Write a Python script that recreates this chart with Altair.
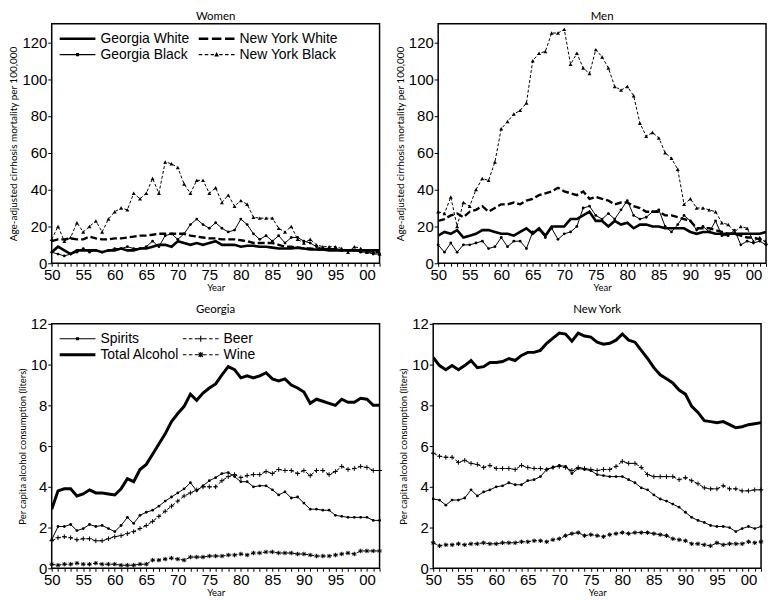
import altair as alt
import pandas as pd

years = list(range(1950, 2003))

# ---- Cirrhosis mortality, Women ----
women_georgia_white = [6,9,7,5,7,7,7,7,6,7, 7,8,7,7,8,8,9,10,10,9, 12,11,10,11,10,11,12,10,10,10,
                       9,9.5,9.5,9,9,8.5,8,8,8,8.5, 8,7.5,7.5,7.5,7,7,7,7,7,7, 7,7,7]
women_georgia_black = [6,5,4,5,6,8,6,7,6,7, 8,8,9,8,8,9,12,9,15,16, 13,16,21,24,21,19,22,19,17,18,
                       24,21,16,13,15,12,15,11,14,14, 12,11,9,8,8,8,7,7,7,6, 6,5,5]
women_newyork_white = [12,13,13,13.5,13,13,14.5,13.5,13,13, 13.5,13.5,14,14.5,15,15,15.5,16,16,16,
                       16,16,15,14.5,14,13.5,13.5,13,13,13, 12.5,12,11,11,11,11,10,9,9,8.5,
                       8,8,7.5,7.5,7.5,7.5,7,7,7,7, 7,6.5,6]
women_newyork_black = [13,20,12,14,22,17,20,23,17,24, 28,30,29,38,35,38,46,38,55,54,
                       52,43,38,45,45,38,41,33,37,31, 34,32,25,24.5,24.5,24.5,19,17,20,13,
                       11,13,10,9,9,9,8,6,9,8, 6,6,5]

# ---- Cirrhosis mortality, Men ----
men_georgia_white = [15,17,16,18,14,15,16,18,18,17, 16,16,15,17,19,16,19,15,20,20,
                     20,24,24,26,28,23,23,20,23,21, 22,19,21,21,20,20,19,19,19,19,
                     17,16,17,17,16,16,16,16,16,16, 16,16,17]
men_georgia_black = [10,6,11,6,10,10,11,12,8,9, 14,9,12,12,8,17,18,14,19,13,
                     16,17,20,30,31,26,24,27,24,29, 34,26,24,25,28,29,20,17,21,26,
                     23,18,20,17,23,15,15,18,10,12, 11,12,10]
men_newyork_white = [23,24,26,27,25,28,29,31,28,30, 32,32,33,32,34,35,37,38,39,41,
                     39,38,37,39,35,36,35,34,32,33, 33,31,30,28,28,28,26,26,25,24,
                     23,19,19,19,18,17,16,16,15,14, 14,13,12]
men_newyork_black = [28,27,36,20,33,31,40,46,45,55, 73,77,81,83,87,110,114,115,125,125,
                     127,108,114,106,103,116,112,106,96,94, 96,91,76,69,71,68,60,57,51,32,
                     35,30,30,29,28,22,21,17,20,19, 12,14,11]

# ---- Per capita alcohol, Georgia ----
ga_total = [2.9,3.8,3.9,3.9,3.55,3.65,3.85,3.7,3.7,3.65, 3.6,3.9,4.4,4.25,4.85,5.1,5.6,6.1,6.6,7.2,
            7.6,7.95,8.55,8.25,8.6,8.85,9.05,9.5,9.9,9.75, 9.35,9.45,9.35,9.45,9.6,9.3,9.2,9.3,9.0,8.85,
            8.65,8.1,8.3,8.2,8.1,8.0,8.3,8.15,8.15,8.35, 8.3,8.0,8.0]
ga_spirits = [1.4,2.05,2.05,2.15,1.85,1.95,2.15,2.05,2.1,1.95, 1.8,2.1,2.5,2.2,2.6,2.75,2.85,3.05,3.3,3.5,
              3.7,3.9,4.2,3.8,4.05,4.3,4.45,4.65,4.7,4.5, 4.25,4.25,4.0,4.05,4.05,3.85,3.6,3.75,3.45,3.5,
              3.2,2.9,2.9,2.85,2.85,2.6,2.55,2.5,2.5,2.5, 2.5,2.35,2.35]
ga_beer = [1.35,1.5,1.55,1.5,1.4,1.45,1.45,1.35,1.35,1.45, 1.55,1.6,1.7,1.8,1.95,2.1,2.3,2.55,2.8,3.05,
           3.3,3.55,3.7,3.85,4.0,4.0,4.0,4.3,4.5,4.6, 4.45,4.55,4.6,4.6,4.75,4.65,4.85,4.8,4.8,4.65,
           4.8,4.55,4.8,4.8,4.6,4.75,5.0,4.85,4.9,5.0, 4.95,4.8,4.8]
ga_wine = [0.2,0.15,0.2,0.2,0.25,0.2,0.2,0.25,0.2,0.2, 0.2,0.15,0.15,0.15,0.2,0.2,0.4,0.4,0.45,0.5,
           0.45,0.4,0.55,0.55,0.55,0.6,0.6,0.6,0.65,0.65, 0.7,0.65,0.75,0.75,0.8,0.8,0.75,0.75,0.75,0.7,
           0.7,0.65,0.6,0.6,0.6,0.65,0.7,0.75,0.7,0.85, 0.85,0.85,0.85]

# ---- Per capita alcohol, New York ----
ny_total = [10.35,9.95,9.75,9.95,9.75,9.95,10.2,9.85,9.9,10.1, 10.1,10.15,10.3,10.2,10.45,10.6,10.6,10.7,11.05,11.3,
            11.55,11.5,11.15,11.55,11.4,11.35,11.1,11.0,11.05,11.2, 11.5,11.2,11.1,10.7,10.3,9.85,9.5,9.3,9.1,8.75,
            8.55,7.95,7.65,7.25,7.2,7.15,7.2,7.05,6.9,6.95, 7.05,7.1,7.15]
ny_beer = [5.65,5.5,5.45,5.45,5.2,5.3,5.15,5.1,4.95,5.05, 4.9,4.9,4.9,4.85,5.05,4.95,4.9,4.9,4.85,4.95,
           5.0,4.95,4.8,4.95,4.9,4.85,4.8,4.85,4.85,5.0, 5.25,5.15,5.15,4.95,4.6,4.5,4.5,4.5,4.5,4.35,
           4.45,4.3,4.15,3.95,3.9,3.9,4.05,3.9,3.9,3.8, 3.8,3.85,3.85]
ny_spirits = [3.4,3.35,3.1,3.35,3.35,3.45,3.85,3.55,3.75,3.85, 4.0,4.05,4.2,4.1,4.1,4.3,4.35,4.5,4.85,4.95,
              5.05,5.0,4.65,4.9,4.85,4.8,4.6,4.55,4.5,4.5, 4.5,4.35,4.2,3.95,3.85,3.6,3.4,3.3,3.15,3.0,
              2.75,2.5,2.35,2.25,2.1,2.05,2.05,2.0,1.8,1.95, 2.05,1.95,2.05]
ny_wine = [1.25,1.1,1.15,1.15,1.2,1.15,1.2,1.2,1.25,1.2, 1.2,1.25,1.25,1.25,1.3,1.3,1.35,1.35,1.3,1.4,
           1.45,1.6,1.7,1.75,1.6,1.65,1.6,1.55,1.65,1.7, 1.75,1.7,1.75,1.75,1.75,1.7,1.65,1.6,1.45,1.4,
           1.35,1.2,1.2,1.15,1.1,1.25,1.15,1.2,1.2,1.2, 1.3,1.25,1.3]

mort_names = ["Georgia White", "New York White", "Georgia Black", "New York Black"]
alc_names = ["Spirits", "Beer", "Total Alcohol", "Wine"]


def long_df(series_dict):
    rows = []
    for name, vals in series_dict.items():
        assert len(vals) == len(years), (name, len(vals))
        for yr, v in zip(years, vals):
            rows.append({"year": yr, "value": v, "series": name})
    return pd.DataFrame(rows)


df_women = long_df({"Georgia White": women_georgia_white, "New York White": women_newyork_white,
                    "Georgia Black": women_georgia_black, "New York Black": women_newyork_black})
df_men = long_df({"Georgia White": men_georgia_white, "New York White": men_newyork_white,
                  "Georgia Black": men_georgia_black, "New York Black": men_newyork_black})
df_ga = long_df({"Spirits": ga_spirits, "Beer": ga_beer, "Total Alcohol": ga_total, "Wine": ga_wine})
df_ny = long_df({"Spirits": ny_spirits, "Beer": ny_beer, "Total Alcohol": ny_total, "Wine": ny_wine})

PLUS = "M-1,0H1M0,-1V1"
STAR = "M-1,0H1M0,-1V1M-0.7,-0.7L0.7,0.7M-0.7,0.7L0.7,-0.7"

# style per series: (strokeWidth, dash, marker)  -- drawing order = dict order
mort_style = {
    "Georgia White": (2.6, None, None),
    "New York White": (2.4, [7, 3], None),
    "Georgia Black": (1.0, None, ("circle", 8, True)),
    "New York Black": (1.0, [3, 2], ("triangle-up", 16, True)),
}
alc_style = {
    "Total Alcohol": (3.0, None, None),
    "Spirits": (1.0, None, ("circle", 8, True)),
    "Beer": (1.0, [4, 2], (PLUS, 22, False)),
    "Wine": (1.0, [4, 2], (STAR, 20, False)),
}


# legend symbol paths, built only from filled shapes (unit = 6 px)
def rect(x0, x1, h):
    return f"M{x0},{-h}H{x1}V{h}H{x0}Z"


def vrect(y0, y1, w):
    return f"M{-w},{y0}H{w}V{y1}H{-w}Z"


TH = 0.09
THICK = rect(-3, 3, 0.22)
THIN = rect(-3, 3, TH)
DOT = rect(-0.26, 0.26, 0.26)
LONGDASH = rect(-3, -1.4, 0.19) + rect(-0.8, 0.8, 0.19) + rect(1.4, 3, 0.19)
SHORTDASH = (rect(-3, -2.4, TH) + rect(-2, -1.4, TH) + rect(-1, -0.45, TH)
             + rect(0.45, 1, TH) + rect(1.4, 2, TH) + rect(2.4, 3, TH))
TRI = "M0,-0.45L0.4,0.3L-0.4,0.3Z"
LPLUS = rect(-0.5, 0.5, TH) + vrect(-0.5, 0.5, TH)
LSTAR = (rect(-0.45, 0.45, TH) + vrect(-0.45, 0.45, TH)
         + "M-0.286,-0.414L0.414,0.286L0.286,0.414L-0.414,-0.286Z"
         + "M0.286,-0.414L0.414,-0.286L-0.286,0.414L-0.414,0.286Z")
mort_paths = [THICK, LONGDASH, THIN + DOT, SHORTDASH + TRI]
alc_paths = [THIN + DOT, SHORTDASH + LPLUS, rect(-3, 3, 0.25), SHORTDASH + LSTAR]

TICK_FONT = "Liberation Sans"
TITLE_FONT = "Lato"


def panel(df, names, style, title, ytitle, ytitle_size, ydom, yvals, w, h, legend=None):
    x = alt.X("year:Q",
              scale=alt.Scale(domain=[1950, 2002], nice=False, zero=False),
              axis=alt.Axis(values=years,
                            labelExpr="datum.value % 5 == 0 ? substring(toString(datum.value), 2, 4) : ''",
                            tickSize=3, labelFont=TICK_FONT, labelFontSize=15, labelPadding=1,
                            labelFlush=False, labelOverlap=False,
                            title="Year", titleFont=TITLE_FONT, titleFontSize=9.5,
                            titleFontWeight="normal", titlePadding=0))
    y = alt.Y("value:Q",
              scale=alt.Scale(domain=ydom, nice=False, zero=True),
              axis=alt.Axis(values=yvals, tickSize=4, labelFont=TICK_FONT, labelFontSize=15,
                            labelPadding=1, title=ytitle, titleFont=TITLE_FONT,
                            titleFontSize=ytitle_size, titleFontWeight="normal", titlePadding=3))
    base = alt.Chart(df)
    layers = []
    for n, (sw, dash, mk) in style.items():
        props = dict(color="black", strokeWidth=sw, clip=True)
        if dash is not None:
            props["strokeDash"] = dash
        layers.append(base.transform_filter(alt.datum.series == n).mark_line(**props).encode(x=x, y=y))
        if mk is not None:
            shape, size, filled = mk
            if filled:
                pm = base.mark_point(shape=shape, size=size, filled=True, color="black", opacity=1)
            else:
                pm = base.mark_point(shape=shape, size=size, filled=False, stroke="black",
                                     strokeWidth=1, opacity=1)
            layers.append(pm.transform_filter(alt.datum.series == n).encode(x=x, y=y))
    if legend is not None:
        paths, lx, ly, colpad = legend
        dummy = base.transform_filter("false").mark_point(
            filled=True, fill="black", stroke="black", strokeWidth=1, size=144, opacity=1
        ).encode(
            x=x, y=y,
            shape=alt.Shape("series:N", scale=alt.Scale(domain=names, range=paths),
                            legend=alt.Legend(title=None, orient="none", legendX=lx, legendY=ly,
                                              direction="horizontal",
                                              columns=2, columnPadding=colpad, rowPadding=2,
                                              symbolSize=144, labelOffset=16,
                                              labelFont=TICK_FONT, labelFontSize=14,
                                              labelColor="black", labelLimit=400,
                                              symbolFillColor="black", symbolStrokeColor="black",
                                              symbolStrokeWidth=1, padding=0)),
        )
        layers.append(dummy)
    return alt.layer(*layers).properties(
        width=w, height=h,
        title=alt.TitleParams(title, font=TITLE_FONT, fontSize=11.5, fontWeight="normal", offset=1),
    )


MORT_T = "Age-adjusted cirrhosis mortality per 100,000"
ALC_T = "Per capita alcohol consumption (liters)"
W = 330
women = panel(df_women, mort_names, mort_style, "Women", MORT_T, 10, [0, 130],
              [0, 20, 40, 60, 80, 100, 120], W, 241, legend=(mort_paths, 19, 8, 7))
men = panel(df_men, mort_names, mort_style, "Men", MORT_T, 10, [0, 130],
            [0, 20, 40, 60, 80, 100, 120], W, 241)
georgia = panel(df_ga, alc_names, alc_style, "Georgia", ALC_T, 9.5, [0, 12],
                [0, 2, 4, 6, 8, 10, 12], W, 246, legend=(alc_paths, 19, 8, 1))
newyork = panel(df_ny, alc_names, alc_style, "New York", ALC_T, 9.5, [0, 12],
                [0, 2, 4, 6, 8, 10, 12], W, 246)

top = alt.hconcat(women, men, spacing=12).resolve_scale(
    x="independent", y="independent", shape="independent").resolve_legend(shape="independent")
bottom = alt.hconcat(georgia, newyork, spacing=12).resolve_scale(
    x="independent", y="independent", shape="independent").resolve_legend(shape="independent")

chart = alt.vconcat(top, bottom, spacing=10).resolve_scale(
    x="independent", y="independent", shape="independent",
).resolve_legend(shape="independent").properties(
    padding=0, background="white"
).configure_view(stroke="black", strokeWidth=1.5).configure_axis(
    grid=False, domain=False, tickColor="black", labelColor="black", titleColor="black"
).configure_title(color="black")

chart.save("out.html", embed_options={"renderer": "svg", "actions": False})
